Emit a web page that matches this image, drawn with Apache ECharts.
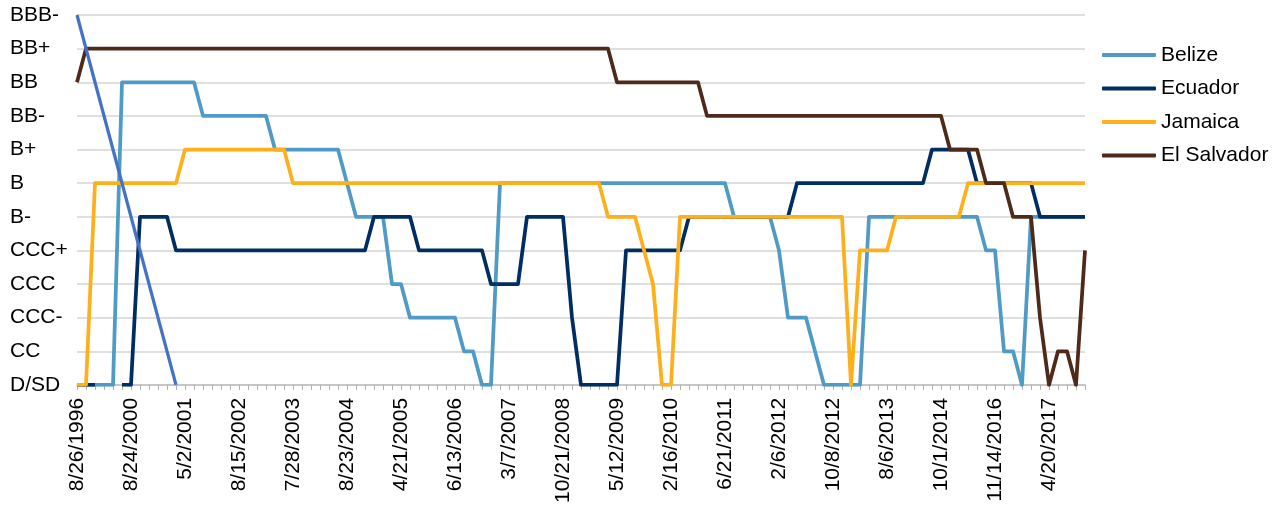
<!DOCTYPE html>
<html>
<head>
<meta charset="utf-8">
<script src="https://cdn.jsdelivr.net/npm/echarts@6/dist/echarts.min.js"></script>
<style>
html,body{margin:0;padding:0;background:#fff;}
#chart{width:1278px;height:506px;}
</style>
</head>
<body>
<div id="chart"></div>
<script>
// Rating scale (y-axis tick labels), lowest to highest
const ratings = ['D/SD','CC','CCC-','CCC','CCC+','B-','B','B+','BB-','BB','BB+','BBB-'];

// Date labels shown on the x-axis (every 6th category)
const tickLabels = ['8/26/1996','8/24/2000','5/2/2001','8/15/2002','7/28/2003','8/23/2004','4/21/2005',
  '6/13/2006','3/7/2007','10/21/2008','5/12/2009','2/16/2010','6/21/2011','2/6/2012','10/8/2012',
  '8/6/2013','10/1/2014','11/14/2016','4/20/2017'];
const categoryCount = 113;

// Rating index per observation (0 = D/SD ... 11 = BBB-)
const belize = [
  0,0,0,0,0,9,9,9,9,9,
  9,9,9,9,8,8,8,8,8,8,
  8,8,7,7,7,7,7,7,7,7,
  6,5,5,5,5,3,3,2,2,2,
  2,2,2,1,1,0,0,6,6,6,
  6,6,6,6,6,6,6,6,6,6,
  6,6,6,6,6,6,6,6,6,6,
  6,6,6,5,5,5,5,5,4,2,
  2,2,1,0,0,0,0,0,5,5,
  5,5,5,5,5,5,5,5,5,5,
  5,4,4,1,1,0,5,5,5,5,
  5,5,5];
const ecuador = [
  0,0,0,null,null,0,0,5,5,5,
  5,4,4,4,4,4,4,4,4,4,
  4,4,4,4,4,4,4,4,4,4,
  4,4,4,5,5,5,5,5,4,4,
  4,4,4,4,4,4,3,3,3,3,
  5,5,5,5,5,2,0,0,0,0,
  0,4,4,4,4,4,4,4,5,5,
  5,5,5,5,5,5,5,5,5,5,
  6,6,6,6,6,6,6,6,6,6,
  6,6,6,6,6,7,7,7,7,7,
  6,6,6,6,6,6,6,5,5,5,
  5,5,5];
const jamaica = [
  0,0,6,6,6,6,6,6,6,6,
  6,6,7,7,7,7,7,7,7,7,
  7,7,7,7,6,6,6,6,6,6,
  6,6,6,6,6,6,6,6,6,6,
  6,6,6,6,6,6,6,6,6,6,
  6,6,6,6,6,6,6,6,6,5,
  5,5,5,4,3,0,0,5,5,5,
  5,5,5,5,5,5,5,5,5,5,
  5,5,5,5,5,5,0,4,4,4,
  4,5,5,5,5,5,5,5,5,6,
  6,6,6,6,6,6,6,6,6,6,
  6,6,6];
const elSalvador = [
  9,10,10,10,10,10,10,10,10,10,
  10,10,10,10,10,10,10,10,10,10,
  10,10,10,10,10,10,10,10,10,10,
  10,10,10,10,10,10,10,10,10,10,
  10,10,10,10,10,10,10,10,10,10,
  10,10,10,10,10,10,10,10,10,10,
  9,9,9,9,9,9,9,9,9,9,
  8,8,8,8,8,8,8,8,8,8,
  8,8,8,8,8,8,8,8,8,8,
  8,8,8,8,8,8,8,7,7,7,
  7,6,6,6,5,5,5,2,0,1,
  1,0,4];
// Stray unlabeled series: two points only, joined by a straight line
const strayPoints = [[0, 11], [11, 0]];

const categories = [];
for (let i = 0; i < categoryCount; i++) {
  categories.push(i % 6 === 0 && tickLabels[i / 6] ? tickLabels[i / 6] : '');
}
const stray = new Array(categoryCount).fill(null);
strayPoints.forEach(p => { stray[p[0]] = p[1]; });

const FONT = '"Liberation Sans", Arial, sans-serif';
const chart = echarts.init(document.getElementById('chart'), null, {renderer: 'canvas'});

function lineSeries(name, data, color, width) {
  return {
    name: name, type: 'line', data: data, symbol: 'none', showSymbol: false,
    lineStyle: {color: color, width: width || 3.75, join: 'round'}, itemStyle: {color: color},
    animation: false
  };
}

chart.setOption({
  animation: false,
  backgroundColor: '#ffffff',
  grid: {left: 77, right: 193, top: 15, bottom: 121},
  legend: {
    data: ['Belize','Ecuador','Jamaica','El Salvador'],
    orient: 'vertical', left: 1097, top: 39,
    icon: 'roundRect', itemWidth: 54, itemHeight: 4, itemGap: 11.5,
    textStyle: {fontFamily: FONT, fontSize: 21, lineHeight: 22, color: '#000', padding: [0, 0, 0, 0]}
  },
  xAxis: {
    type: 'category', data: categories, boundaryGap: false,
    axisLine: {lineStyle: {color: '#bfbfbf', width: 1.5}},
    axisTick: {show: true, interval: 0, length: 5, lineStyle: {color: '#b0b0b0'}},
    axisLabel: {interval: 5, rotate: 90, margin: 13, fontFamily: FONT, fontSize: 21, color: '#000'},
    splitLine: {show: false}
  },
  yAxis: {
    type: 'value', min: 0, max: 11, interval: 1,
    axisLine: {show: false}, axisTick: {show: false},
    axisLabel: {
      align: 'left', margin: 67, fontFamily: FONT, fontSize: 21, color: '#000',
      formatter: v => ratings[v] || ''
    },
    splitLine: {lineStyle: {color: '#d4d4d4', width: 1.5}}
  },
  series: [
    lineSeries('Belize', belize, '#4f9bc6'),
    lineSeries('Ecuador', ecuador, '#002d62'),
    lineSeries('Jamaica', jamaica, '#fdb01c'),
    lineSeries('El Salvador', elSalvador, '#4e2a1a'),
    Object.assign(lineSeries('stray', stray, '#4472c4', 3.25), {connectNulls: true})
  ]
});
</script>
</body>
</html>
